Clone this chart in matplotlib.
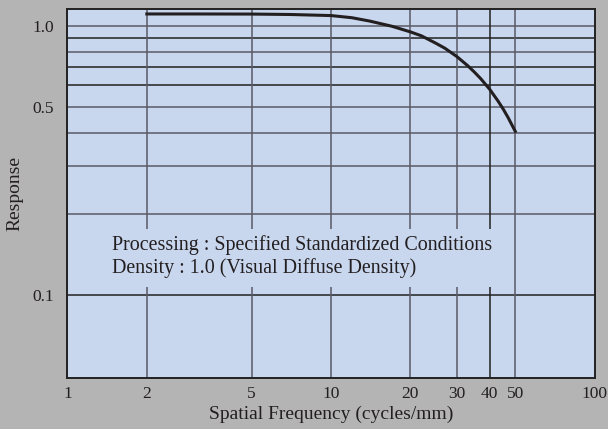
import numpy as np
import matplotlib.pyplot as plt
from matplotlib.patches import Rectangle

# MTF curve
freq = [2, 3, 5, 7, 10, 12, 14, 17, 20, 22, 25, 27, 30, 33, 35, 37, 40, 43, 45, 47, 50]
response = [1.105, 1.105, 1.104, 1.10, 1.09, 1.07, 1.04, 0.995, 0.948, 0.917,
            0.86, 0.825, 0.768, 0.71, 0.672, 0.635, 0.58, 0.525, 0.49, 0.455, 0.405]

x_ticks = [1, 2, 5, 10, 20, 30, 40, 50, 100]
x_grid = [2, 5, 10, 20, 30, 40, 50]
y_ticks = [0.1, 0.5, 1.0]
y_grid = [0.1, 0.2, 0.3, 0.4, 0.5, 0.6, 0.7, 0.8, 0.9, 1.0]
notes = ['Processing : Specified Standardized Conditions',
         'Density : 1.0 (Visual Diffuse Density)']

plt.rcParams['font.family'] = ['Liberation Serif', 'DejaVu Serif']

fig = plt.figure(figsize=(6.08, 4.29), dpi=100, facecolor='#b4b4b4')
ax = fig.add_axes([0.111, 0.120, 0.867, 0.860])
ax.set_facecolor('#c8d6ee')
ax.set_xscale('log')
ax.set_yscale('log')
ax.set_xlim(1, 100)
ax.set_ylim(0.0494, 1.157)

# grid lines, some darker than others like the original
dark_y = {0.1, 0.6, 0.7, 0.9}
for v in y_grid:
    ax.axhline(v, color='#222222' if v in dark_y else '#5a5a66', lw=1.1, zorder=1)
for v in x_grid:
    ax.axvline(v, color='#222222' if v == 40 else '#5a5a66', lw=1.1, zorder=1)

ax.plot(freq, response, color='#231f20', lw=2.2, zorder=4)

# note box hides the grid behind the text
ax.add_patch(Rectangle((0.077, 0.245), 0.743, 0.158, transform=ax.transAxes,
                       facecolor='#c8d6ee', edgecolor='none', zorder=2))
ax.text(0.0845, 0.327, '\n'.join(notes), transform=ax.transAxes,
        ha='left', va='center', fontsize=14.4, linespacing=1.22,
        color='#231f20', zorder=3)

ax.set_xticks(x_ticks)
ax.set_xticklabels([str(t) for t in x_ticks])
ax.set_xticks([], minor=True)
ax.set_yticks(y_ticks)
ax.set_yticklabels(['0.1', '0.5', '1.0'])
ax.set_yticks([], minor=True)
ax.tick_params(axis='x', length=0, pad=6, labelsize=12.5, colors='#231f20')
ax.tick_params(axis='y', length=0, pad=10, labelsize=12.5, colors='#231f20')

for s in ax.spines.values():
    s.set_color('#222222')
    s.set_linewidth(1.4)
    s.set_zorder(5)

ax.set_xlabel('Spatial Frequency (cycles/mm)', fontsize=14, color='#231f20', labelpad=3)
ax.set_ylabel('Response', fontsize=14, color='#231f20', labelpad=6)

fig.savefig('out.png', dpi=100, facecolor=fig.get_facecolor())
